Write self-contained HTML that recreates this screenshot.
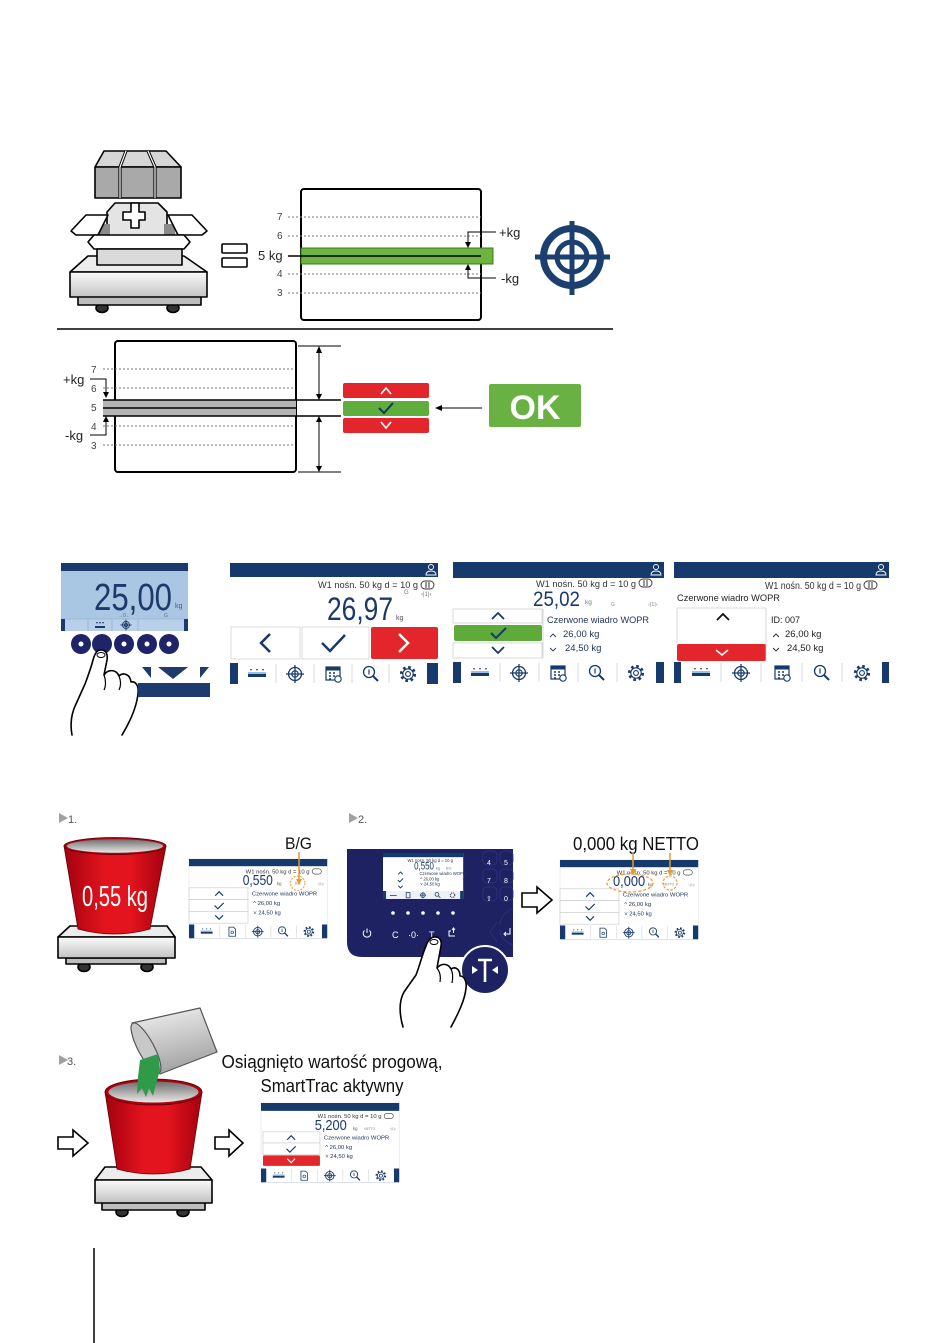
<!DOCTYPE html>
<html><head><meta charset="utf-8"><title>diagram</title>
<style>html,body{margin:0;padding:0;background:#fff}svg{display:block}text{font-family:"Liberation Sans",sans-serif}</style>
</head><body>
<svg width="950" height="1343" viewBox="0 0 950 1343" xmlns="http://www.w3.org/2000/svg">
<defs>
<linearGradient id="red" x1="0" y1="0" x2="1" y2="0"><stop offset="0" stop-color="#a3000f"/><stop offset="0.4" stop-color="#e3141d"/><stop offset="0.65" stop-color="#e3141d"/><stop offset="1" stop-color="#a3000f"/></linearGradient>
<linearGradient id="rim" x1="0" y1="0" x2="0" y2="1"><stop offset="0" stop-color="#6e6e6e"/><stop offset="1" stop-color="#e8e8e8"/></linearGradient>
<linearGradient id="plat" x1="0" y1="0" x2="0" y2="1"><stop offset="0" stop-color="#fbfbfb"/><stop offset="1" stop-color="#c2c2c2"/></linearGradient>
<linearGradient id="can" x1="0" y1="0" x2="0.3" y2="1"><stop offset="0" stop-color="#f4f4f4"/><stop offset="1" stop-color="#a5a5a5"/></linearGradient>
</defs>

<!-- ================= TOP SECTION ================= -->
<g stroke="#000" stroke-width="1.6" stroke-linejoin="round">
<ellipse cx="102" cy="308" rx="6" ry="4.5" fill="#333"/>
<ellipse cx="173" cy="308" rx="6" ry="4.5" fill="#333"/>
<rect x="78" y="296" width="123" height="9" fill="#bdbdbd"/>
<polygon points="88,256 184,256 207,272 70,272" fill="#ececec"/>
<rect x="70" y="272" width="137" height="25" fill="url(#plat)"/>
<!-- open box -->
<polygon points="115,203 158,203 167,212 167,240 107,240 107,212" fill="#e4e4e4"/>
<polygon points="100,224 110,224 110,240 98,240" fill="#8a8a8a" stroke="none"/>
<polygon points="164,224 174,224 176,240 164,240" fill="#8a8a8a" stroke="none"/>
<path d="M131,203 h8 v9 h6 v8 h-6 v8 h-8 v-8 h-8 v-8 h8 z" fill="#fff"/>
<polygon points="71,231 86,215 108,215 98,235 76,235" fill="#fff"/>
<polygon points="207,231 192,215 168,215 178,235 202,235" fill="#fff"/>
<polygon points="94,235 184,235 190,242 184,249 94,249 88,242" fill="#fff"/>
<rect x="97" y="249" width="85" height="16" fill="#dadada"/>
<!-- weight -->
<polygon points="104,151 166,151 181,167 95,167" fill="#d6d6d6"/>
<rect x="95" y="167" width="86" height="31" fill="#a9a9a9"/>
<polyline points="126,151 120,167 120,198" fill="none" stroke-width="3.2"/>
<polyline points="148,151 155,167 155,198" fill="none" stroke-width="3.2"/>
<polyline points="126,151 120,167 120,198" fill="none" stroke="#fff" stroke-width="1.2"/>
<polyline points="148,151 155,167 155,198" fill="none" stroke="#fff" stroke-width="1.2"/>
<!-- equals -->
<rect x="222" y="244" width="25" height="9" rx="1" fill="#fff"/>
<rect x="222" y="258" width="25" height="9" rx="1" fill="#fff"/>
</g>

<!-- chart top -->
<rect x="301" y="189" width="180" height="131" rx="3" fill="#fff" stroke="#000" stroke-width="2"/>
<g stroke="#777" stroke-width="0.9" stroke-dasharray="2 2">
<line x1="288" y1="217" x2="481" y2="217"/><line x1="288" y1="236" x2="481" y2="236"/>
<line x1="288" y1="274" x2="481" y2="274"/><line x1="288" y1="293" x2="481" y2="293"/>
</g>
<g font-size="10" fill="#444">
<text x="277" y="220">7</text><text x="277" y="239">6</text><text x="277" y="277">4</text><text x="277" y="296">3</text>
</g>
<text x="258" y="260" font-size="13" fill="#222">5 kg</text>
<rect x="301" y="248" width="192" height="16" fill="#6cb33f" stroke="#3d7a1e" stroke-width="1"/>
<line x1="288" y1="256" x2="481" y2="256" stroke="#000" stroke-width="1.5"/>
<g stroke="#000" stroke-width="1" fill="none">
<polyline points="496,232 468,232 468,243"/>
<polyline points="496,278 468,278 468,269"/>
</g>
<polygon points="465,242 471,242 468,248" fill="#000"/>
<polygon points="465,270 471,270 468,264" fill="#000"/>
<text x="499" y="237" font-size="13" fill="#222">+kg</text>
<text x="501" y="283" font-size="13" fill="#222">-kg</text>
<!-- target -->
<g stroke="#1b3f6f" fill="none">
<circle cx="572" cy="257" r="28.5" stroke-width="7"/>
<circle cx="572" cy="257" r="15" stroke-width="5"/>
<line x1="535" y1="257" x2="610" y2="257" stroke-width="5"/>
<line x1="572" y1="221" x2="572" y2="295" stroke-width="5"/>
</g>

<line x1="57" y1="329" x2="613" y2="329" stroke="#000" stroke-width="1.5"/>

<!-- lower chart -->
<rect x="115" y="341" width="181" height="131" rx="3" fill="#fff" stroke="#000" stroke-width="2"/>
<g stroke="#777" stroke-width="0.9" stroke-dasharray="2 2">
<line x1="103" y1="369" x2="294" y2="369"/><line x1="103" y1="388" x2="294" y2="388"/>
<line x1="103" y1="426" x2="294" y2="426"/><line x1="103" y1="445" x2="294" y2="445"/>
</g>
<g font-size="10" fill="#444">
<text x="91" y="373">7</text><text x="91" y="392">6</text><text x="91" y="411">5</text><text x="91" y="430">4</text><text x="91" y="449">3</text>
</g>
<rect x="103" y="400" width="193" height="16" fill="#b5b5b5"/>
<g stroke="#000" stroke-width="1.5">
<line x1="103" y1="400" x2="341" y2="400"/><line x1="103" y1="416" x2="341" y2="416"/><line x1="103" y1="408" x2="296" y2="408"/>
<line x1="298" y1="346" x2="341" y2="346" stroke-width="1"/><line x1="298" y1="472" x2="341" y2="472" stroke-width="1"/>
</g>
<g stroke="#000" stroke-width="1" fill="none">
<polyline points="90,379 106,379 106,392"/>
<polyline points="90,435 106,435 106,422"/>
<line x1="319" y1="350" x2="319" y2="396"/>
<line x1="319" y1="420" x2="319" y2="468"/>
<line x1="482" y1="408" x2="440" y2="408"/>
</g>
<g fill="#000">
<polygon points="103,392 109,392 106,398"/>
<polygon points="103,422 109,422 106,416"/>
<polygon points="316,353 322,353 319,346"/><polygon points="316,394 322,394 319,400"/>
<polygon points="316,422 322,422 319,416"/><polygon points="316,466 322,466 319,472"/>
<polygon points="435,408 442,405 442,411"/>
</g>
<text x="63" y="384" font-size="13" fill="#222">+kg</text>
<text x="65" y="440" font-size="13" fill="#222">-kg</text>
<rect x="343" y="383" width="86" height="15" rx="2" fill="#e3262b"/>
<rect x="343" y="401" width="86" height="15" rx="2" fill="#5fae3d"/>
<rect x="343" y="418" width="86" height="15" rx="2" fill="#e3262b"/>
<polyline points="381,394 386,388 391,394" fill="none" stroke="#fff" stroke-width="1.6"/>
<polyline points="379,408 384,413 393,403" fill="none" stroke="#16365a" stroke-width="2"/>
<polyline points="381,422 386,428 391,422" fill="none" stroke="#fff" stroke-width="1.6"/>
<rect x="489" y="384" width="92" height="43" rx="2" fill="#6ab143"/>
<text x="535" y="419" font-size="34" font-weight="bold" fill="#fff" text-anchor="middle">OK</text>

<!-- ================= SCREENS ROW ================= -->
<!-- screen 1 -->
<rect x="61" y="563" width="127" height="68" fill="#a9c6e2"/>
<rect x="61" y="563" width="127" height="8" fill="#1b3a6b"/>
<text x="94" y="610" font-size="38" fill="#1b3a6b" textLength="78" lengthAdjust="spacingAndGlyphs">25,00</text>
<text x="175" y="608" font-size="7" fill="#4a5d7a">kg</text>
<text x="118" y="617" font-size="5" fill="#5a6d8a">→0←</text>
<text x="164" y="617" font-size="5" fill="#5a6d8a">G</text>
<rect x="61" y="619" width="127" height="12" fill="#b8d0ea"/>
<line x1="61" y1="619" x2="188" y2="619" stroke="#8aa6c6" stroke-width="0.6"/>
<line x1="88" y1="620" x2="88" y2="631" stroke="#8aa6c6" stroke-width="0.6"/>
<line x1="112" y1="620" x2="112" y2="631" stroke="#8aa6c6" stroke-width="0.6"/>
<line x1="138" y1="620" x2="138" y2="631" stroke="#8aa6c6" stroke-width="0.6"/>
<rect x="61" y="619" width="4" height="12" fill="#1b3a6b"/>
<rect x="184" y="619" width="4" height="12" fill="#1b3a6b"/>
<rect x="95" y="626" width="10" height="2" fill="#1b3a6b"/>
<path d="M96,622h2l-1,2zM99,622h2l-1,2zM102,622h2l-1,2z" fill="#1b3a6b"/>
<g stroke="#1b3a6b" fill="none" stroke-width="0.9"><circle cx="126" cy="625" r="3.5"/><circle cx="126" cy="625" r="1.6"/><path d="M120.5,625h11M126,619.5v11"/></g>
<g fill="#1f2368">
<circle cx="81" cy="644" r="10"/><circle cx="102" cy="644" r="10"/><circle cx="124" cy="644" r="10"/><circle cx="147" cy="644" r="10"/><circle cx="169" cy="644" r="10"/>
</g>
<g fill="#fff"><circle cx="81" cy="644" r="2.5"/><circle cx="124" cy="644" r="2.5"/><circle cx="147" cy="644" r="2.5"/><circle cx="169" cy="644" r="2.5"/></g>
<!-- hand 1 -->
<path d="M72,735 C70,724 71,714 76,704 L85,684 C88,676 91,668 93,660 C95,653 97,650 101,650 C106,650 108,654 107,660 L104,675 C108,669 116,669 119,676 C123,672 130,674 131,682 C135,681 139,685 138,693 C137,706 131,720 122,735" fill="#fff" stroke="#000" stroke-width="1.6" stroke-linecap="round" stroke-linejoin="round"/>
<ellipse cx="101" cy="655" rx="4" ry="2.5" fill="#fff" stroke="#000" stroke-width="1"/>
<path d="M104,675 C106,680 106,686 104,690 M119,676 C121,681 121,686 119,690" fill="none" stroke="#000" stroke-width="1.2"/>
<!-- tare symbol -->
<g fill="#1e3a6e">
<polygon points="142,667 151,667 151,678"/>
<polygon points="158,667 188,667 173,679"/>
<polygon points="200,667 209,667 200,678"/>
<rect x="138" y="683" width="72" height="14"/>
</g>

<!-- screen 2 -->
<rect x="230" y="563" width="208" height="121" fill="#fff"/>
<rect x="230" y="563" width="208" height="14" fill="#163a6b"/>
<g stroke="#fff" fill="none" stroke-width="0.9"><circle cx="431" cy="567" r="2.5"/><path d="M426,575 q0,-4 5,-4 q5,0 5,4z"/></g>
<text x="418" y="588" font-size="9.5" fill="#333" text-anchor="end" textLength="100" lengthAdjust="spacingAndGlyphs">W1 nośn. 50 kg d = 10 g</text>
<rect x="421" y="581" width="13" height="8" rx="4" fill="none" stroke="#333" stroke-width="0.9"/>
<line x1="426" y1="582" x2="426" y2="588" stroke="#333"/><line x1="429" y1="582" x2="429" y2="588" stroke="#333"/>
<text x="327" y="620" font-size="32" fill="#1b3a6b" textLength="66" lengthAdjust="spacingAndGlyphs">26,97</text>
<text x="396" y="620" font-size="7" fill="#555">kg</text>
<text x="404" y="594" font-size="6" fill="#777">G</text>
<text x="421" y="596" font-size="6" fill="#777">›|1|‹</text>
<rect x="231" y="627" width="69" height="32" fill="#fff" stroke="#d4d4d4" stroke-width="0.8"/>
<rect x="302" y="627" width="67" height="32" fill="#fff" stroke="#d4d4d4" stroke-width="0.8"/>
<rect x="371" y="627" width="67" height="32" rx="2" fill="#e3262b"/>
<polyline points="270,634 261,643 270,652" fill="none" stroke="#163a6b" stroke-width="2.5"/>
<polyline points="322,643 330,651 345,635" fill="none" stroke="#163a6b" stroke-width="2.5"/>
<polyline points="399,634 408,643 399,652" fill="none" stroke="#fff" stroke-width="2.5"/>
<rect x="230" y="663" width="208" height="21" fill="#163a6b"/>
<rect x="238" y="663" width="189" height="21" fill="#fff"/>
<g stroke="#d0d0d0" stroke-width="0.8"><line x1="276" y1="664" x2="276" y2="683"/><line x1="314" y1="664" x2="314" y2="683"/><line x1="352" y1="664" x2="352" y2="683"/><line x1="389" y1="664" x2="389" y2="683"/></g>
<g transform="translate(257,674)"><rect x="-9" y="0" width="18" height="3" fill="#163a6b"/><rect x="-9" y="-2" width="18" height="2" fill="#9cc0e0"/><path d="M-7,-5h2l-1,2zM-1,-5h2l-1,2zM5,-5h2l-1,2z" fill="#163a6b"/></g>
<g transform="translate(295,674)" fill="none" stroke="#163a6b"><circle r="6.5" stroke-width="1.3"/><circle r="3.2" stroke-width="1.2"/><path d="M-9,0H9M0,-9V9" stroke-width="1.3"/></g>
<g transform="translate(333,674)"><rect x="-7" y="-7" width="14" height="13" fill="#fff" stroke="#163a6b" stroke-width="1.2"/><rect x="-7" y="-7" width="14" height="3.5" fill="#163a6b"/><path d="M-4,-1h2M0,-1h2M-4,2h2M0,2h2M-4,5h2" stroke="#163a6b" stroke-width="1.5"/><circle cx="5" cy="5" r="3.2" fill="#fff" stroke="#163a6b" stroke-width="1.1"/></g>
<g transform="translate(371,674)" fill="none" stroke="#163a6b"><circle cx="-2" cy="-2" r="5.5" stroke-width="1.3"/><path d="M2,2L7,7" stroke-width="2"/><path d="M-2,-4.5V0.5" stroke-width="1.2"/></g>
<g transform="translate(408,674)" fill="none" stroke="#163a6b"><circle r="6.8" stroke-width="2.6" stroke-dasharray="2.6 2.74"/><circle r="5.2" fill="#fff" stroke-width="1.1"/><circle r="2.4" stroke-width="1.1"/></g>

<!-- screen 3 -->
<rect x="453" y="562" width="211" height="121" fill="#fff"/>
<rect x="453" y="562" width="211" height="16" fill="#163a6b"/>
<g stroke="#fff" fill="none" stroke-width="0.9"><circle cx="656" cy="567" r="2.5"/><path d="M651,575 q0,-4 5,-4 q5,0 5,4z"/></g>
<text x="636" y="587" font-size="9.5" fill="#333" text-anchor="end" textLength="100" lengthAdjust="spacingAndGlyphs">W1 nośn. 50 kg d = 10 g</text>
<rect x="639" y="579" width="13" height="8" rx="4" fill="none" stroke="#333" stroke-width="0.9"/>
<line x1="644" y1="580" x2="644" y2="586" stroke="#333"/><line x1="647" y1="580" x2="647" y2="586" stroke="#333"/>
<text x="533" y="606" font-size="21" fill="#1b3a6b" textLength="47" lengthAdjust="spacingAndGlyphs">25,02</text>
<text x="585" y="604" font-size="6.5" fill="#777">kg</text>
<text x="611" y="606" font-size="5" fill="#888">G</text>
<text x="648" y="606" font-size="5.5" fill="#888">›|1|‹</text>
<rect x="453" y="609" width="89" height="14" fill="#fff" stroke="#d0d0d0" stroke-width="0.8"/>
<rect x="454" y="625" width="88" height="16" rx="2" fill="#5eab3a"/>
<rect x="453" y="643" width="89" height="15" fill="#fff" stroke="#d0d0d0" stroke-width="0.8"/>
<polyline points="492,619 498,613 504,619" fill="none" stroke="#163a6b" stroke-width="1.8"/>
<polyline points="491,633 496,638 506,628" fill="none" stroke="#163a6b" stroke-width="2"/>
<polyline points="492,647 498,653 504,647" fill="none" stroke="#163a6b" stroke-width="1.8"/>
<line x1="543" y1="609" x2="543" y2="658" stroke="#ccc" stroke-width="0.8"/>
<text x="547" y="623" font-size="9.5" fill="#23365a" textLength="102" lengthAdjust="spacingAndGlyphs">Czerwone wiadro WOPR</text>
<polyline points="550,637 553,634 556,637" fill="none" stroke="#23365a" stroke-width="0.9"/>
<text x="563" y="637" font-size="9.5" fill="#23365a">26,00 kg</text>
<polyline points="550,648 553,651 556,648" fill="none" stroke="#23365a" stroke-width="0.9"/>
<text x="565" y="651" font-size="9.5" fill="#23365a">24,50 kg</text>
<rect x="453" y="662" width="211" height="21" fill="#163a6b"/>
<rect x="461" y="662" width="195" height="21" fill="#fff"/>
<g stroke="#d0d0d0" stroke-width="0.8"><line x1="500" y1="663" x2="500" y2="682"/><line x1="539" y1="663" x2="539" y2="682"/><line x1="578" y1="663" x2="578" y2="682"/><line x1="617" y1="663" x2="617" y2="682"/></g>
<g transform="translate(480,673)"><rect x="-9" y="0" width="18" height="3" fill="#163a6b"/><rect x="-9" y="-2" width="18" height="2" fill="#9cc0e0"/><path d="M-7,-5h2l-1,2zM-1,-5h2l-1,2zM5,-5h2l-1,2z" fill="#163a6b"/></g>
<g transform="translate(519,673)" fill="none" stroke="#163a6b"><circle r="6.5" stroke-width="1.3"/><circle r="3.2" stroke-width="1.2"/><path d="M-9,0H9M0,-9V9" stroke-width="1.3"/></g>
<g transform="translate(558,673)"><rect x="-7" y="-7" width="14" height="13" fill="#fff" stroke="#163a6b" stroke-width="1.2"/><rect x="-7" y="-7" width="14" height="3.5" fill="#163a6b"/><path d="M-4,-1h2M0,-1h2M-4,2h2M0,2h2M-4,5h2" stroke="#163a6b" stroke-width="1.5"/><circle cx="5" cy="5" r="3.2" fill="#fff" stroke="#163a6b" stroke-width="1.1"/></g>
<g transform="translate(597,673)" fill="none" stroke="#163a6b"><circle cx="-2" cy="-2" r="5.5" stroke-width="1.3"/><path d="M2,2L7,7" stroke-width="2"/><path d="M-2,-4.5V0.5" stroke-width="1.2"/></g>
<g transform="translate(636,673)" fill="none" stroke="#163a6b"><circle r="6.8" stroke-width="2.6" stroke-dasharray="2.6 2.74"/><circle r="5.2" fill="#fff" stroke-width="1.1"/><circle r="2.4" stroke-width="1.1"/></g>

<!-- screen 4 -->
<rect x="674" y="562" width="215" height="121" fill="#fff"/>
<rect x="674" y="562" width="215" height="16" fill="#163a6b"/>
<g stroke="#fff" fill="none" stroke-width="0.9"><circle cx="881" cy="567" r="2.5"/><path d="M876,575 q0,-4 5,-4 q5,0 5,4z"/></g>
<text x="861" y="589" font-size="10" fill="#333" text-anchor="end" textLength="96" lengthAdjust="spacingAndGlyphs">W1 nośn. 50 kg d = 10 g</text>
<rect x="864" y="581" width="13" height="8" rx="4" fill="none" stroke="#333" stroke-width="0.9"/>
<line x1="869" y1="582" x2="869" y2="588" stroke="#333"/><line x1="872" y1="582" x2="872" y2="588" stroke="#333"/>
<text x="677" y="601" font-size="9.5" fill="#222" textLength="103" lengthAdjust="spacingAndGlyphs">Czerwone wiadro WOPR</text>
<path d="M677,643 V608 H766" fill="none" stroke="#d0d0d0" stroke-width="0.8"/>
<polyline points="717,620 723,614 729,620" fill="none" stroke="#111" stroke-width="1.8"/>
<rect x="677" y="644" width="89" height="17" rx="2" fill="#e3262b"/>
<polyline points="716,650 722,655 728,650" fill="none" stroke="#fff" stroke-width="1.6"/>
<line x1="766" y1="608" x2="766" y2="661" stroke="#ccc" stroke-width="0.8"/>
<text x="771" y="623" font-size="9" fill="#222">ID: 007</text>
<polyline points="773,637 776,634 779,637" fill="none" stroke="#222" stroke-width="0.9"/>
<text x="785" y="637" font-size="9.5" fill="#222">26,00 kg</text>
<polyline points="773,648 776,651 779,648" fill="none" stroke="#222" stroke-width="0.9"/>
<text x="787" y="651" font-size="9.5" fill="#222">24,50 kg</text>
<rect x="674" y="662" width="215" height="21" fill="#163a6b"/>
<rect x="681" y="662" width="201" height="21" fill="#fff"/>
<g stroke="#d0d0d0" stroke-width="0.8"><line x1="721" y1="663" x2="721" y2="682"/><line x1="761" y1="663" x2="761" y2="682"/><line x1="802" y1="663" x2="802" y2="682"/><line x1="842" y1="663" x2="842" y2="682"/></g>
<g transform="translate(701,673)"><rect x="-9" y="0" width="18" height="3" fill="#163a6b"/><rect x="-9" y="-2" width="18" height="2" fill="#9cc0e0"/><path d="M-7,-5h2l-1,2zM-1,-5h2l-1,2zM5,-5h2l-1,2z" fill="#163a6b"/></g>
<g transform="translate(741,673)" fill="none" stroke="#163a6b"><circle r="6.5" stroke-width="1.3"/><circle r="3.2" stroke-width="1.2"/><path d="M-9,0H9M0,-9V9" stroke-width="1.3"/></g>
<g transform="translate(782,673)"><rect x="-7" y="-7" width="14" height="13" fill="#fff" stroke="#163a6b" stroke-width="1.2"/><rect x="-7" y="-7" width="14" height="3.5" fill="#163a6b"/><path d="M-4,-1h2M0,-1h2M-4,2h2M0,2h2M-4,5h2" stroke="#163a6b" stroke-width="1.5"/><circle cx="5" cy="5" r="3.2" fill="#fff" stroke="#163a6b" stroke-width="1.1"/></g>
<g transform="translate(822,673)" fill="none" stroke="#163a6b"><circle cx="-2" cy="-2" r="5.5" stroke-width="1.3"/><path d="M2,2L7,7" stroke-width="2"/><path d="M-2,-4.5V0.5" stroke-width="1.2"/></g>
<g transform="translate(862,673)" fill="none" stroke="#163a6b"><circle r="6.8" stroke-width="2.6" stroke-dasharray="2.6 2.74"/><circle r="5.2" fill="#fff" stroke-width="1.1"/><circle r="2.4" stroke-width="1.1"/></g>

<!-- ================= STEP 1 ================= -->
<polygon points="59,813 68,818 59,823" fill="#a0a0a0"/>
<text x="68" y="823" font-size="11" fill="#555">1.</text>
<g stroke="#000" stroke-width="1.6" stroke-linejoin="round">
<ellipse cx="84" cy="967" rx="6" ry="4.5" fill="#333"/>
<ellipse cx="147" cy="967" rx="6" ry="4.5" fill="#333"/>
<rect x="66" y="958" width="100" height="6" fill="#bdbdbd"/>
<polygon points="70,926 167,926 175,937 58,937" fill="#ececec"/>
<rect x="58" y="937" width="117" height="21" fill="url(#plat)"/>
</g>
<path d="M64,846 L78,929 Q114,939 150,929 L166,846 Z" fill="url(#red)" stroke="#600" stroke-width="0.8"/>
<ellipse cx="115" cy="846" rx="51" ry="8.5" fill="#b00010" stroke="#500" stroke-width="0.8"/>
<ellipse cx="115" cy="846" rx="48" ry="6.8" fill="url(#rim)"/>
<text x="82" y="906" font-size="29" fill="#fff" textLength="66" lengthAdjust="spacingAndGlyphs">0,55 kg</text>
<text x="285" y="849" font-size="17" fill="#111" textLength="27" lengthAdjust="spacingAndGlyphs">B/G</text>

<!-- step 1 screen -->
<g transform="translate(189,859) scale(0.655)">
<rect x="0" y="0" width="211" height="121" fill="#fff" stroke="#ddd" stroke-width="0.8"/>
<rect x="0" y="0" width="211" height="11" fill="#163a6b"/>
<text x="184" y="22" font-size="9" fill="#333" text-anchor="end">W1 nośn. 50 kg d = 10 g</text>
<rect x="188" y="15" width="14" height="8" rx="4" fill="none" stroke="#333" stroke-width="0.9"/>
<text x="82" y="40" font-size="23" fill="#1a3a6b" textLength="46" lengthAdjust="spacingAndGlyphs">0,550</text>
<text x="134" y="40" font-size="7" fill="#666">kg</text>
<circle cx="166" cy="37" r="11" fill="none" stroke="#e8a030" stroke-width="1.5" stroke-dasharray="3 2"/>
<text x="166" y="39" font-size="5" text-anchor="middle" fill="#888">B/G</text>
<text x="196" y="40" font-size="6" fill="#999">›|1|‹</text>
<rect x="0" y="44" width="90" height="18" fill="#fff" stroke="#ccc"/>
<rect x="0" y="62" width="90" height="18" fill="#fff" stroke="#ccc"/>
<rect x="0" y="80" width="90" height="18" fill="#fff" stroke="#ccc"/>
<polyline points="40,56 46,50 52,56" fill="none" stroke="#163a6b" stroke-width="1.8"/>
<polyline points="39,71 44,76 53,67" fill="none" stroke="#163a6b" stroke-width="1.8"/>
<polyline points="40,86 46,92 52,86" fill="none" stroke="#163a6b" stroke-width="1.8"/>
<text x="96" y="56" font-size="9" fill="#23365a">Czerwone wiadro WOPR</text>
<text x="98" y="70" font-size="9" fill="#23365a">^ 26,00 kg</text>
<text x="98" y="85" font-size="9" fill="#23365a">˅ 24,50 kg</text>
<rect x="0" y="100" width="211" height="21" fill="#163a6b"/>
<rect x="8" y="100" width="195" height="21" fill="#fff"/>
<g stroke="#d0d0d0" stroke-width="0.8"><line x1="47" y1="101" x2="47" y2="120"/><line x1="86" y1="101" x2="86" y2="120"/><line x1="125" y1="101" x2="125" y2="120"/><line x1="164" y1="101" x2="164" y2="120"/></g>
<g transform="translate(27,111)"><rect x="-9" y="0" width="18" height="3" fill="#163a6b"/><rect x="-9" y="-2" width="18" height="2" fill="#9cc0e0"/><path d="M-7,-5h2l-1,2zM-1,-5h2l-1,2zM5,-5h2l-1,2z" fill="#163a6b"/></g>
<g transform="translate(66,111)"><path d="M-5,-7h7l3,3v11h-10z" fill="#fff" stroke="#163a6b" stroke-width="1.2"/><circle cx="0" cy="1" r="2" fill="none" stroke="#163a6b"/></g>
<g transform="translate(105,111)" fill="none" stroke="#163a6b"><circle r="6.5" stroke-width="1.3"/><circle r="3.2" stroke-width="1.2"/><path d="M-9,0H9M0,-9V9" stroke-width="1.3"/></g>
<g transform="translate(144,111)" fill="none" stroke="#163a6b"><circle cx="-2" cy="-2" r="5.5" stroke-width="1.3"/><path d="M2,2L7,7" stroke-width="2"/><path d="M-2,-4.5V0.5" stroke-width="1.2"/></g>
<g transform="translate(183,111)" fill="none" stroke="#163a6b"><circle r="6.8" stroke-width="2.6" stroke-dasharray="2.6 2.74"/><circle r="5.2" fill="#fff" stroke-width="1.1"/><circle r="2.4" stroke-width="1.1"/></g>
</g>
<line x1="299" y1="852" x2="299" y2="880" stroke="#e59a2b" stroke-width="1.5"/>
<polygon points="296,879 302,879 299,885" fill="#e59a2b"/>

<!-- ================= STEP 2 ================= -->
<polygon points="349,813 358,818 349,823" fill="#a0a0a0"/>
<text x="358" y="823" font-size="11" fill="#555">2.</text>
<path d="M347,849 H513 V957 H362 Q347,957 347,942 Z" fill="#1e2263"/>
<g fill="none" stroke="#2f3480" stroke-width="0.8">
<rect x="483" y="851" width="14" height="14" rx="4"/><rect x="500" y="851" width="13" height="14" rx="4"/>
<rect x="483" y="869" width="14" height="14" rx="4"/><rect x="500" y="869" width="13" height="14" rx="4"/>
<rect x="483" y="887" width="14" height="14" rx="4"/><rect x="500" y="887" width="13" height="14" rx="4"/>
<path d="M513,908 Q500,915 500,925 M513,945 Q500,940 500,930"/>
<path d="M497,922 L490,932 L497,942"/>
</g>
<g font-size="7" fill="#fff">
<text x="487" y="865">4</text><text x="504" y="865">5</text>
<text x="487" y="883">7</text><text x="504" y="883">8</text>
<text x="486" y="901">⇧</text><text x="504" y="901">0</text>
</g>
<path d="M510,928 V934 H504 M506,932 L504,934 L506,936" fill="none" stroke="#fff" stroke-width="1"/>
<!-- inner screen -->
<g transform="translate(383,853) scale(0.38)">
<rect x="0" y="0" width="211" height="121" fill="#fff"/>
<rect x="0" y="0" width="211" height="11" fill="#163a6b"/>
<text x="184" y="24" font-size="11" fill="#333" text-anchor="end">W1 nośn. 50 kg d = 10 g</text>
<text x="82" y="44" font-size="28" fill="#1a3a6b" textLength="52" lengthAdjust="spacingAndGlyphs">0,550</text>
<text x="140" y="44" font-size="9" fill="#666">kg</text>
<text x="165" y="44" font-size="9" fill="#888">B/G</text>
<polyline points="40,56 46,50 52,56" fill="none" stroke="#163a6b" stroke-width="2.5"/>
<polyline points="39,71 44,76 53,67" fill="none" stroke="#163a6b" stroke-width="2.5"/>
<polyline points="40,86 46,92 52,86" fill="none" stroke="#163a6b" stroke-width="2.5"/>
<text x="96" y="58" font-size="11" fill="#23365a">Czerwone wiadro WOPR</text>
<text x="98" y="72" font-size="11" fill="#23365a">^ 26,00 kg</text>
<text x="98" y="86" font-size="11" fill="#23365a">˅ 24,50 kg</text>
<rect x="0" y="100" width="211" height="21" fill="#163a6b"/>
<rect x="8" y="100" width="195" height="21" fill="#eef2f8"/>
<g stroke="#163a6b" stroke-width="2" fill="none">
<path d="M18,112h18"/><rect x="61" y="104" width="10" height="14"/><circle cx="105" cy="111" r="6"/><path d="M97,111h16M105,103v16"/><circle cx="142" cy="109" r="5"/><path d="M146,113l5,5"/><circle cx="183" cy="111" r="6" stroke-width="3" stroke-dasharray="2.5 2.2"/>
</g>
</g>
<g fill="#fff">
<circle cx="393" cy="913" r="1.8"/><circle cx="408" cy="913" r="1.8"/><circle cx="423" cy="913" r="1.8"/><circle cx="438" cy="913" r="1.8"/><circle cx="453" cy="913" r="1.8"/>
</g>
<g fill="none" stroke="#fff" stroke-width="1">
<path d="M364.5,930.5 A3.8,3.8 0 1 0 369.5,930.5"/><path d="M367,928.5v4.5"/>
<path d="M455,936h-6v-5h2M452,930l1.5,-2l1.5,2M453.5,928v5"/>
</g>
<text x="392" y="938" font-size="9" fill="#fff">C</text>
<text x="408" y="938" font-size="9" fill="#fff">·0·</text>
<text x="429" y="938" font-size="9" fill="#fff">T</text>
<!-- T icon -->
<circle cx="485" cy="970" r="24" fill="#1e2263" stroke="#fff" stroke-width="2"/>
<path d="M478,960 H492 M485,960 V982" stroke="#fff" stroke-width="2.6" fill="none"/>
<polygon points="472,966 478,970 472,974" fill="#fff"/>
<polygon points="498,966 492,970 498,974" fill="#fff"/>
<!-- hand 2 -->
<path d="M403,1027 C399,1013 399,1001 404,992 L416,975 C420,965 422,955 426,946 C428,940 431,937 435,937 C440,937 442,941 441,946 L437,968 C441,963 448,963 451,969 C455,966 460,969 460,976 C464,976 467,981 466,988 C465,1000 458,1014 451,1027" fill="#fff" stroke="#000" stroke-width="1.6" stroke-linecap="round" stroke-linejoin="round"/>
<ellipse cx="434" cy="942" rx="4" ry="2.5" fill="#fff" stroke="#000" stroke-width="1"/>
<path d="M437,968 C440,972 441,977 440,982 M451,969 C453,973 453,978 452,983" fill="none" stroke="#000" stroke-width="1.2"/>
<!-- hollow arrow -->
<path d="M522,893 H537 V887 L552,900 L537,913 V907 H522 Z" fill="#fff" stroke="#000" stroke-width="1.6" stroke-linejoin="miter"/>
<text x="573" y="850" font-size="18" fill="#111" textLength="126" lengthAdjust="spacingAndGlyphs">0,000 kg NETTO</text>

<!-- step 2 screen -->
<g transform="translate(560,860) scale(0.655)">
<rect x="0" y="0" width="211" height="121" fill="#fff" stroke="#ddd" stroke-width="0.8"/>
<rect x="0" y="0" width="211" height="11" fill="#163a6b"/>
<text x="184" y="22" font-size="9" fill="#333" text-anchor="end">W1 nośn. 50 kg d = 10 g</text>
<rect x="188" y="15" width="14" height="8" rx="4" fill="none" stroke="#333" stroke-width="0.9"/>
<text x="81" y="40" font-size="23" fill="#1a3a6b" textLength="49" lengthAdjust="spacingAndGlyphs">0,000</text>
<text x="134" y="40" font-size="7" fill="#666">kg</text>
<text x="166" y="39" font-size="5" text-anchor="middle" fill="#888">NETTO</text>
<text x="196" y="40" font-size="6" fill="#999">›|1|‹</text>
<rect x="0" y="44" width="90" height="18" fill="#fff" stroke="#ccc"/>
<rect x="0" y="62" width="90" height="18" fill="#fff" stroke="#ccc"/>
<rect x="0" y="80" width="90" height="18" fill="#fff" stroke="#ccc"/>
<polyline points="40,56 46,50 52,56" fill="none" stroke="#163a6b" stroke-width="1.8"/>
<polyline points="39,71 44,76 53,67" fill="none" stroke="#163a6b" stroke-width="1.8"/>
<polyline points="40,86 46,92 52,86" fill="none" stroke="#163a6b" stroke-width="1.8"/>
<text x="96" y="56" font-size="9" fill="#23365a">Czerwone wiadro WOPR</text>
<text x="98" y="70" font-size="9" fill="#23365a">^ 26,00 kg</text>
<text x="98" y="85" font-size="9" fill="#23365a">˅ 24,50 kg</text>
<rect x="0" y="100" width="211" height="21" fill="#163a6b"/>
<rect x="8" y="100" width="195" height="21" fill="#fff"/>
<g stroke="#d0d0d0" stroke-width="0.8"><line x1="47" y1="101" x2="47" y2="120"/><line x1="86" y1="101" x2="86" y2="120"/><line x1="125" y1="101" x2="125" y2="120"/><line x1="164" y1="101" x2="164" y2="120"/></g>
<g transform="translate(27,111)"><rect x="-9" y="0" width="18" height="3" fill="#163a6b"/><rect x="-9" y="-2" width="18" height="2" fill="#9cc0e0"/><path d="M-7,-5h2l-1,2zM-1,-5h2l-1,2zM5,-5h2l-1,2z" fill="#163a6b"/></g>
<g transform="translate(66,111)"><path d="M-5,-7h7l3,3v11h-10z" fill="#fff" stroke="#163a6b" stroke-width="1.2"/><circle cx="0" cy="1" r="2" fill="none" stroke="#163a6b"/></g>
<g transform="translate(105,111)" fill="none" stroke="#163a6b"><circle r="6.5" stroke-width="1.3"/><circle r="3.2" stroke-width="1.2"/><path d="M-9,0H9M0,-9V9" stroke-width="1.3"/></g>
<g transform="translate(144,111)" fill="none" stroke="#163a6b"><circle cx="-2" cy="-2" r="5.5" stroke-width="1.3"/><path d="M2,2L7,7" stroke-width="2"/><path d="M-2,-4.5V0.5" stroke-width="1.2"/></g>
<g transform="translate(183,111)" fill="none" stroke="#163a6b"><circle r="6.8" stroke-width="2.6" stroke-dasharray="2.6 2.74"/><circle r="5.2" fill="#fff" stroke-width="1.1"/><circle r="2.4" stroke-width="1.1"/></g>
</g>
<ellipse cx="630" cy="883" rx="23" ry="9" fill="none" stroke="#e8a030" stroke-width="1.3" stroke-dasharray="3 2"/>
<circle cx="670" cy="883" r="7" fill="none" stroke="#e8a030" stroke-width="1.2" stroke-dasharray="2.5 1.5"/>
<line x1="633" y1="853" x2="633" y2="870" stroke="#e59a2b" stroke-width="1.5"/>
<polygon points="630,869 636,869 633,875" fill="#e59a2b"/>
<line x1="670" y1="853" x2="670" y2="871" stroke="#e59a2b" stroke-width="1.5"/>
<polygon points="667,870 673,870 670,876" fill="#e59a2b"/>

<!-- ================= STEP 3 ================= -->
<polygon points="59,1055 68,1060 59,1065" fill="#a0a0a0"/>
<text x="67" y="1065" font-size="11" fill="#555">3.</text>
<g stroke="#000" stroke-width="1.6" stroke-linejoin="round">
<ellipse cx="122" cy="1212" rx="6" ry="4.5" fill="#333"/>
<ellipse cx="183" cy="1212" rx="6" ry="4.5" fill="#333"/>
<rect x="102" y="1202" width="103" height="8" fill="#bdbdbd"/>
<polygon points="105,1167 201,1167 212,1180 95,1180" fill="#ececec"/>
<rect x="95" y="1180" width="117" height="23" fill="url(#plat)"/>
</g>
<path d="M105,1092 L117,1169 Q153,1179 190,1169 L202,1092 Z" fill="url(#red)" stroke="#600" stroke-width="0.8"/>
<ellipse cx="153.5" cy="1092" rx="48.5" ry="13" fill="#b00010" stroke="#500" stroke-width="0.8"/>
<ellipse cx="153.5" cy="1092" rx="45" ry="10.5" fill="url(#rim)"/>
<!-- can -->
<path d="M132,1023 L200,1008 L217,1052 L160,1074 Z" fill="url(#can)" stroke="#555" stroke-width="1.2" stroke-linejoin="round"/>
<ellipse cx="146" cy="1048" rx="28" ry="8" transform="rotate(62 146 1048)" fill="#c8c8c8" stroke="#555" stroke-width="1.2"/>
<polygon points="140,1060 158,1054 160,1070 156,1084 153,1096 149,1088 146,1097 142,1088 137,1094 138,1077" fill="#2f9a48"/>
<!-- arrows -->
<path d="M58,1137 H73 V1130 L88,1143 L73,1156 V1149 H58 Z" fill="#fff" stroke="#000" stroke-width="1.6"/>
<path d="M215,1137 H229 V1130 L243,1143 L229,1156 V1149 H215 Z" fill="#fff" stroke="#000" stroke-width="1.6"/>
<text x="332" y="1068" font-size="18" fill="#111" text-anchor="middle" textLength="221" lengthAdjust="spacingAndGlyphs">Osiągnięto wartość progową,</text>
<text x="332" y="1092" font-size="18" fill="#111" text-anchor="middle" textLength="143" lengthAdjust="spacingAndGlyphs">SmartTrac aktywny</text>

<!-- step 3 screen -->
<g transform="translate(261,1103) scale(0.655)">
<rect x="0" y="0" width="211" height="121" fill="#fff" stroke="#ddd" stroke-width="0.8"/>
<rect x="0" y="0" width="211" height="12" fill="#163a6b"/>
<text x="184" y="23" font-size="9" fill="#333" text-anchor="end">W1 nośn. 50 kg d = 10 g</text>
<rect x="188" y="16" width="14" height="8" rx="4" fill="none" stroke="#333" stroke-width="0.9"/>
<text x="82" y="41" font-size="23" fill="#1a3a6b" textLength="49" lengthAdjust="spacingAndGlyphs">5,200</text>
<text x="140" y="41" font-size="7" fill="#666">kg</text>
<text x="166" y="41" font-size="5" text-anchor="middle" fill="#888">NETTO</text>
<text x="196" y="41" font-size="6" fill="#999">›|1|‹</text>
<rect x="3" y="44" width="87" height="17" fill="#fff" stroke="#ccc"/>
<rect x="3" y="61" width="87" height="18" fill="#fff" stroke="#ccc"/>
<rect x="3" y="80" width="87" height="16" rx="2" fill="#e3262b"/>
<polyline points="40,56 46,50 52,56" fill="none" stroke="#163a6b" stroke-width="1.8"/>
<polyline points="39,70 44,75 53,66" fill="none" stroke="#163a6b" stroke-width="1.8"/>
<polyline points="40,85 46,91 52,85" fill="none" stroke="#fff" stroke-width="1.8"/>
<text x="96" y="56" font-size="9" fill="#23365a">Czerwone wiadro WOPR</text>
<text x="98" y="70" font-size="9" fill="#23365a">^ 26,00 kg</text>
<text x="98" y="84" font-size="9" fill="#23365a">˅ 24,50 kg</text>
<rect x="0" y="100" width="211" height="21" fill="#163a6b"/>
<rect x="8" y="100" width="195" height="21" fill="#fff"/>
<g stroke="#d0d0d0" stroke-width="0.8"><line x1="47" y1="101" x2="47" y2="120"/><line x1="86" y1="101" x2="86" y2="120"/><line x1="125" y1="101" x2="125" y2="120"/><line x1="164" y1="101" x2="164" y2="120"/></g>
<g transform="translate(27,111)"><rect x="-9" y="0" width="18" height="3" fill="#163a6b"/><rect x="-9" y="-2" width="18" height="2" fill="#9cc0e0"/><path d="M-7,-5h2l-1,2zM-1,-5h2l-1,2zM5,-5h2l-1,2z" fill="#163a6b"/></g>
<g transform="translate(66,111)"><path d="M-5,-7h7l3,3v11h-10z" fill="#fff" stroke="#163a6b" stroke-width="1.2"/><circle cx="0" cy="1" r="2" fill="none" stroke="#163a6b"/></g>
<g transform="translate(105,111)" fill="none" stroke="#163a6b"><circle r="6.5" stroke-width="1.3"/><circle r="3.2" stroke-width="1.2"/><path d="M-9,0H9M0,-9V9" stroke-width="1.3"/></g>
<g transform="translate(144,111)" fill="none" stroke="#163a6b"><circle cx="-2" cy="-2" r="5.5" stroke-width="1.3"/><path d="M2,2L7,7" stroke-width="2"/><path d="M-2,-4.5V0.5" stroke-width="1.2"/></g>
<g transform="translate(183,111)" fill="none" stroke="#163a6b"><circle r="6.8" stroke-width="2.6" stroke-dasharray="2.6 2.74"/><circle r="5.2" fill="#fff" stroke-width="1.1"/><circle r="2.4" stroke-width="1.1"/></g>
</g>

<!-- page margin line -->
<line x1="94" y1="1248" x2="94" y2="1343" stroke="#000" stroke-width="1.5"/>
</svg>
</body></html>
